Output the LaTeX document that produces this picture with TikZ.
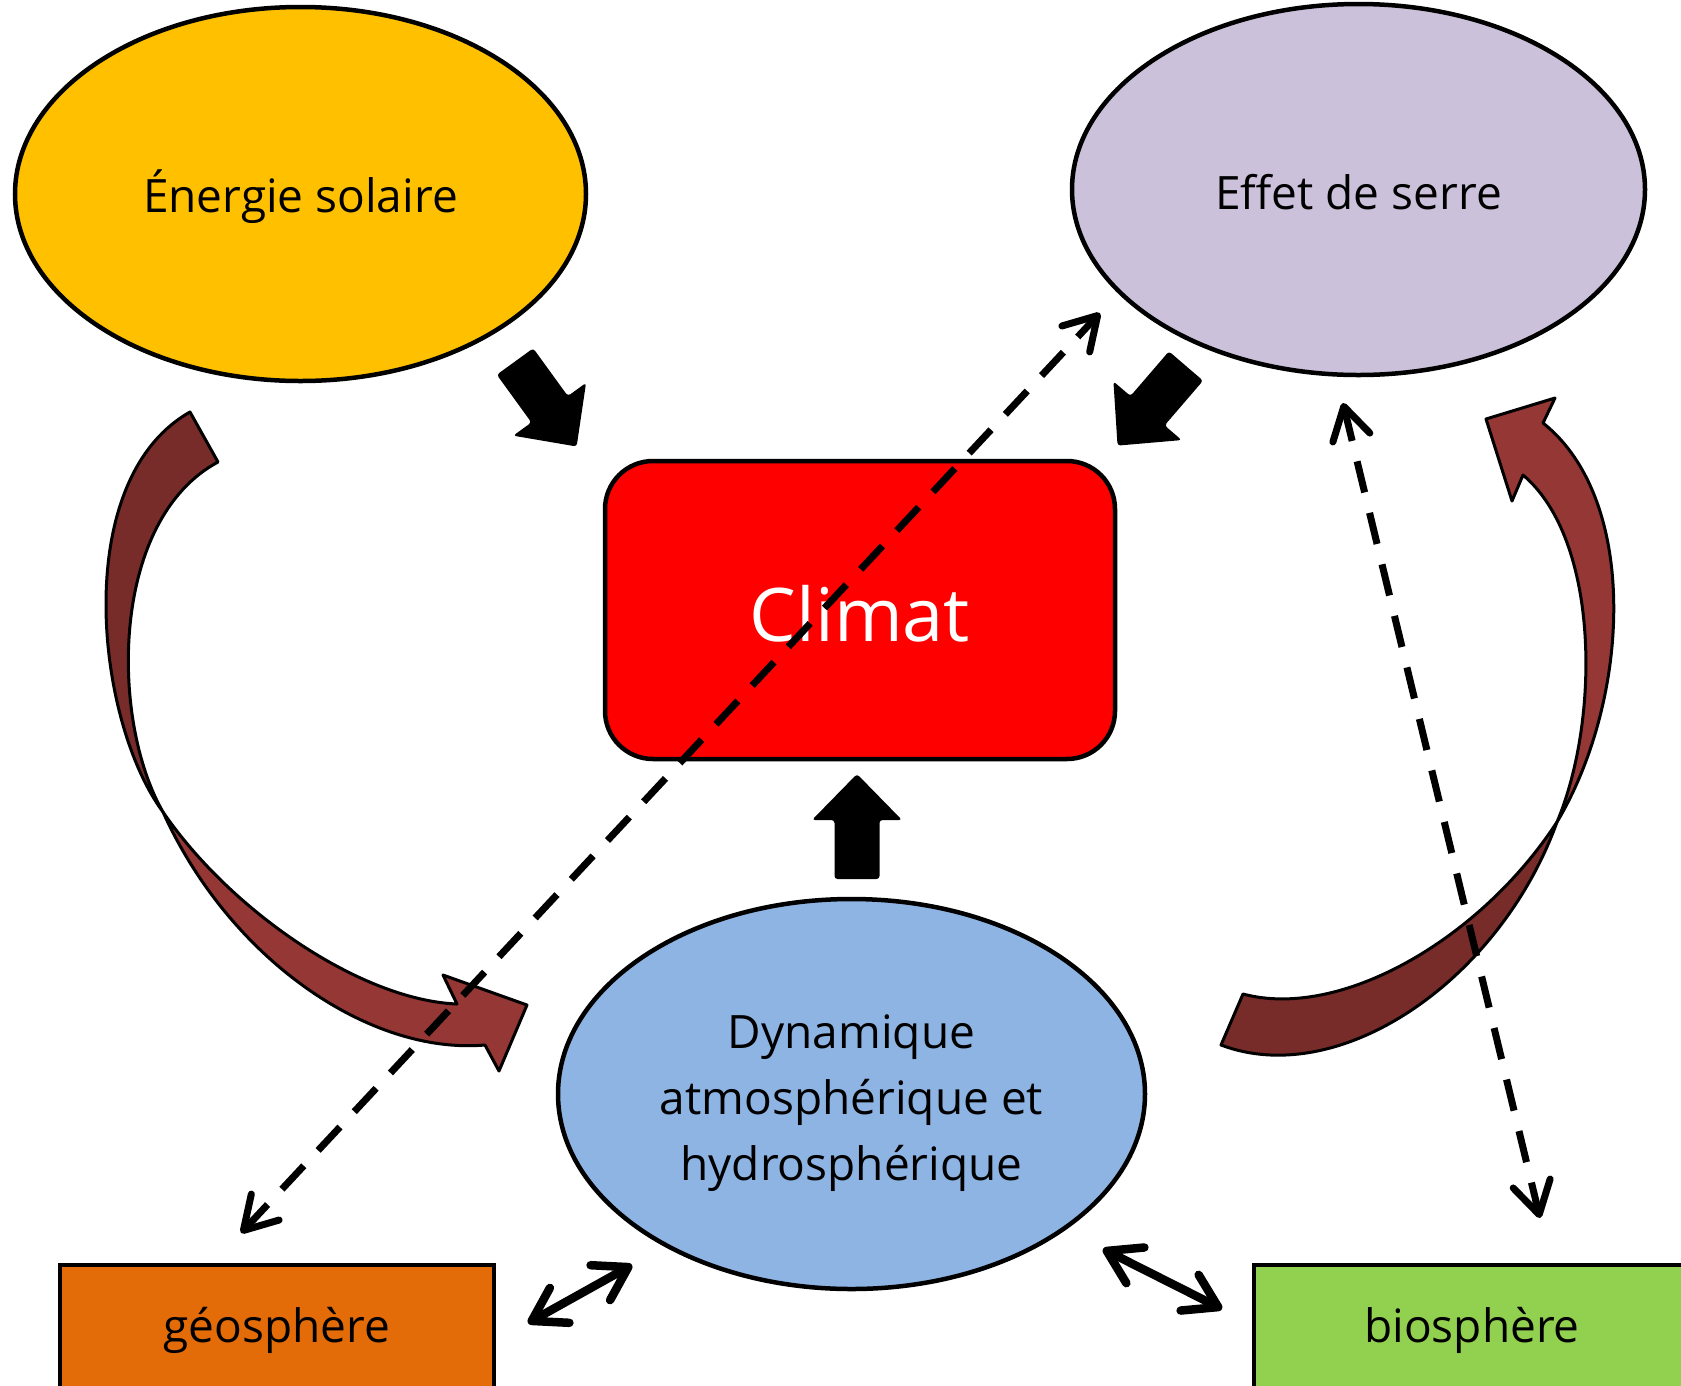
\documentclass[tikz,border=0pt]{standalone}
\usepackage{fontspec}
\setmainfont{Open Sans}
\usetikzlibrary{shapes.geometric,arrows.meta}
\definecolor{solar}{HTML}{FFC000}
\definecolor{serre}{HTML}{CCC1DA}
\definecolor{climat}{HTML}{FF0000}
\definecolor{dynblue}{HTML}{8EB4E3}
\definecolor{geoorange}{HTML}{E36C09}
\definecolor{biogreen}{HTML}{92D050}
\definecolor{arcdark}{HTML}{772C2A}
\definecolor{arclight}{HTML}{953735}
\newcommand\blockarr[3]{%
  \fill[rounded corners=3pt,shift={(#1,#2)},rotate=#3]
    (0,-22.5) -- (59,-22.5) -- (59,-45) -- (105,0) -- (59,45) -- (59,22.5) -- (0,22.5) -- cycle;}
\begin{document}
\begin{tikzpicture}[x=1pt,y=-1pt,
  bubble/.style={ellipse, draw=black, line width=4.5pt, inner sep=0pt, align=center,
                 font=\fontsize{46}{66}\selectfont},
  box/.style={rectangle, draw=black, line width=4.5pt, inner sep=0pt, align=center,
              font=\fontsize{46}{66}\selectfont},
  lbl/.style={align=center, font=\fontsize{46}{66}\selectfont},
  ribbon/.style={draw=black, line width=3pt, line join=round},
  dasharrow/.style={line width=7pt, dash pattern=on 32pt off 21pt,
     {Straight Barb[length=32pt,width=38pt,round]}-{Straight Barb[length=32pt,width=38pt,round]}},
  duoarrow/.style={line width=8.5pt, line cap=round,
     {Straight Barb[length=32pt,width=40pt,round]}-{Straight Barb[length=32pt,width=40pt,round]}}]
\useasboundingbox (0,0) rectangle (1681,1385);
\fill[white] (0,0) rectangle (1681,1385);
\begin{scope}
\clip (0,0) rectangle (1681,1385);
\node[bubble, fill=solar, minimum width=571pt, minimum height=374pt] (sol) at (300.5,194) {};
\node[lbl] (soltxt) at (300.5,197) {Énergie solaire};
\node[bubble, fill=serre, minimum width=573pt, minimum height=371pt] (serre) at (1358.5,189.5) {};
\node[lbl] (serretxt) at (1358.5,192) {Effet de serre};
\node[box, fill=climat, rounded corners=48pt, minimum width=510pt, minimum height=298pt] (clim) at (860,610) {};
\node[text=white, font=\fontsize{74}{80}\selectfont] (climtxt) at (860,614) {Climat};
\node[bubble, fill=dynblue, minimum width=587pt, minimum height=390pt] (dyn) at (851.5,1094) {};
\node[lbl] (dyntxt) at (851.5,1103) {Dynamique\\atmosphérique et\\hydrosphérique};
\node[box, fill=geoorange, minimum width=434pt, minimum height=134pt] (geo) at (277,1332) {};
\node[lbl] (geotxt) at (277,1330) {géosphère};
\node[box, fill=biogreen, minimum width=436pt, minimum height=134pt] (bio) at (1472,1332) {};
\node[lbl] (biotxt) at (1472,1330) {biosphère};
\end{scope}

% left curved arrow
\filldraw[ribbon, fill=arcdark]
  (163,812) .. controls (95,720) and (70,480) .. (190,412)
  -- (218,462) .. controls (110,520) and (110,720) .. (163,812) -- cycle;
\filldraw[ribbon, fill=arclight]
  (163,812) .. controls (230,910) and (360,1000) .. (457,1004)
  -- (443,975) -- (527,1005) -- (499,1071) -- (485,1045)
  .. controls (370,1055) and (230,960) .. (163,812) -- cycle;

% right curved arrow
\filldraw[ribbon, fill=arclight]
  (1557,822) .. controls (1630,700) and (1640,500) .. (1543,423)
  -- (1555,398) -- (1486,419) -- (1512,501) -- (1523,475)
  .. controls (1600,540) and (1600,720) .. (1557,822) -- cycle;
\filldraw[ribbon, fill=arcdark]
  (1557,822) .. controls (1480,940) and (1340,1020) .. (1243,994)
  -- (1221,1045) .. controls (1340,1090) and (1500,980) .. (1557,822) -- cycle;

% block arrows
\blockarr{515}{361.5}{-54.05}
\blockarr{1186}{366}{-130.7}
\blockarr{857}{879}{90}

% dashed arrows
\coordinate (d1a) at (241,1233);
\coordinate (d1b) at (1100,313);
\coordinate (d2a) at (1343,403);
\coordinate (d2b) at (1540,1218);
\draw[dasharrow] (d1a) -- (d1b);
\draw[dasharrow] (d2a) -- (d2b);

% double arrows
\coordinate (e1a) at (528,1323);
\coordinate (e1b) at (632,1265);
\coordinate (e2a) at (1103,1249);
\coordinate (e2b) at (1222,1309);
\draw[duoarrow] (e1a) -- (e1b);
\draw[duoarrow] (e2a) -- (e2b);
\end{tikzpicture}
\end{document}
